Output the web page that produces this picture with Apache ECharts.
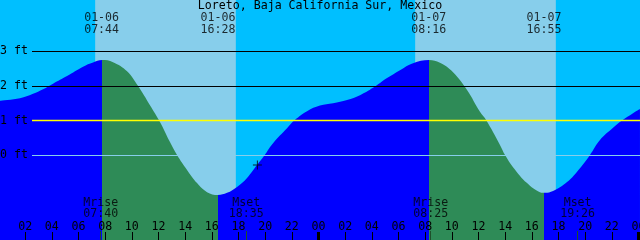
<!DOCTYPE html>
<html><head><meta charset="utf-8">
<script src="https://cdn.jsdelivr.net/npm/echarts@6/dist/echarts.min.js"></script>
<style>html,body{margin:0;padding:0;background:#00BFFF}#c{width:640px;height:240px}</style>
</head><body><div id="c"></div>
<script>
const chartTitle = 'Loreto, Baja California Sur, Mexico';
// tide curve samples: hours since 01-06 00:00 and height in feet
const tideHours = [0.11,1.61,2.59,3.34,4.09,5.14,6.34,7.09,7.76,8.59,
  9.64,10.46,11.36,12.11,12.86,13.39,14.14,14.89,15.64,16.46,
  17.14,17.89,18.64,19.39,19.91,20.59,21.64,22.24,23.14,24.11,
  25.09,26.14,27.11,28.09,29.14,30.11,31.09,32.29,33.11,34.09,
  35.14,36.11,36.56,37.61,37.99,38.59,39.64,40.61,40.99,41.59,
  42.64,43.61,44.36,45.11,46.09,46.76,47.59,48.11];
const tideFeet = [1.57,1.64,1.77,1.90,2.06,2.28,2.55,2.67,2.74,2.68,
  2.42,2.00,1.44,0.96,0.38,0.01,-0.42,-0.80,-1.06,-1.14,
  -1.08,-0.91,-0.65,-0.28,-0.02,0.35,0.78,1.02,1.27,1.43,
  1.50,1.59,1.73,1.94,2.22,2.45,2.65,2.74,2.66,2.39,
  1.88,1.25,1.02,0.30,0.01,-0.34,-0.80,-1.06,-1.08,-1.03,
  -0.77,-0.37,0.01,0.44,0.79,1.00,1.21,1.33];
const sunTimes = ['01-06 07:44','01-06 16:28','01-07 08:16','01-07 16:55'];
const lightTimes = ['01-06 07:15','01-06 17:48','01-07 07:15','01-07 17:48'];
const moonKinds = ['Mrise','Mset','Mrise','Mset'];
const moonTimes = ['01-06 07:40','01-06 18:35','01-07 08:25','01-07 19:26'];
const levelTicks = [0,1,2,3];
const hourTicks = [0,2,4,6,8,10,12,14,16,18,20,22,24,26,28,30,32,34,36,38,40,42,44,46,48];
const dayTicks = [24,48];
const nowMark = ['01-06 19:25', -0.28];

const MONO = 'DejaVu Sans Mono';
function toHours(s){
  const day = parseInt(s.slice(3,5),10) - 6;
  const hh = parseInt(s.slice(6,8),10), mm = parseInt(s.slice(9,11),10);
  return day*24 + hh + mm/60;
}
const XMIN = 0.1125, XMAX = 48.1125, YMIN = -2.436, YMAX = 4.467;
const sunH = sunTimes.map(toHours);
const lightH = lightTimes.map(toHours);
const moonH = moonTimes.map(toHours);
const tideData = tideHours.map((h,i)=>[h, tideFeet[i]]);

const BLUE = '#0000FF', GREEN = '#2E8B57';
const pieces = [
  {lt: sunH[0], color: BLUE},
  {gte: sunH[0], lt: sunH[1], color: GREEN},
  {gte: sunH[1], lt: sunH[2], color: BLUE},
  {gte: sunH[2], lt: sunH[3], color: GREEN},
  {gte: sunH[3], color: BLUE}
];

function tickAxis(values, color, width, length, z){
  return {type:'value', gridIndex:0, min:XMIN, max:XMAX, z:z, position:'bottom', offset:0,
    axisLine:{show:false, onZero:false}, splitLine:{show:false}, axisLabel:{show:false},
    axisTick:{show:true, inside:true, length:length, customValues: values, lineStyle:{color:color, width:width}}};
}

const chart = echarts.init(document.getElementById('c'), null, {renderer:'canvas'});
chart.setOption({
  animation: false,
  backgroundColor: '#00BFFF',
  title: {text: chartTitle, left: 'center', top: 0, padding: 0,
    textStyle: {fontFamily: MONO, fontSize: 11.6, fontWeight: 'normal', color: '#000'}},
  grid: [
    {left: 0, right: 0, top: 0, bottom: 0, outerBoundsMode: 'none', containLabel: false},
    {left: 32, right: 0, top: 0, bottom: 0, outerBoundsMode: 'none', containLabel: false}
  ],
  xAxis: [
    {type:'value', gridIndex:0, min:XMIN, max:XMAX, z:10, position:'bottom',
     axisLine:{show:false, onZero:false}, splitLine:{show:false},
     axisTick:{show:true, inside:true, length:8, customValues: hourTicks, lineStyle:{color:'#000', width:1}},
     axisLabel:{show:true, inside:true, margin:7, customValues: hourTicks, color:'#000', fontFamily:MONO, fontSize:11.6,
       formatter: v => String(Math.round(v)%24).padStart(2,'0')}},
    {type:'value', gridIndex:1, min:0, max:1, show:false},
    tickAxis(dayTicks, '#000', 3, 8, 11),
    tickAxis(moonH, '#1f4f2a', 1, 9, 11)
  ],
  yAxis: [
    {type:'value', gridIndex:0, min:YMIN, max:YMAX, show:false},
    {type:'value', gridIndex:1, min:YMIN, max:YMAX, z:10,
     axisLine:{show:false}, axisTick:{show:false}, splitLine:{show:false},
     axisLabel:{show:true, margin:4, customValues: levelTicks, color:'#000', fontFamily:MONO, fontSize:11.6,
       formatter: v => v + ' ft'}},
    {type:'value', gridIndex:0, min:0, max:240, inverse:true, show:false}
  ],
  visualMap: {type:'piecewise', show:false, dimension:0, seriesIndex:2, pieces: pieces},
  series: [
    {type:'line', xAxisIndex:0, yAxisIndex:0, data:[], z:1, silent:true,
     markArea:{silent:true, itemStyle:{color:'#87CEEB', opacity:1},
       data:[[{xAxis:lightH[0]},{xAxis:lightH[1]}],[{xAxis:lightH[2]},{xAxis:lightH[3]}]]}},
    {type:'line', xAxisIndex:1, yAxisIndex:1, data:[], z:2, silent:true,
     markLine:{silent:true, symbol:['none','none'], label:{show:false},
       data:[{yAxis:3, lineStyle:{color:'#000', width:1, type:'solid'}},
             {yAxis:2, lineStyle:{color:'#000', width:1, type:'solid'}},
             {yAxis:0, lineStyle:{color:'#87CEEB', width:1, type:'solid'}}]}},
    {type:'line', xAxisIndex:0, yAxisIndex:0, data: tideData, z:3, silent:true,
     smooth:0.4, showSymbol:false, symbol:'none',
     lineStyle:{width:0}, areaStyle:{origin:'start', opacity:1}},
    {type:'line', xAxisIndex:1, yAxisIndex:1, data:[], z:4, silent:true,
     markLine:{silent:true, symbol:['none','none'], label:{show:false},
       data:[{yAxis:1, lineStyle:{color:'#FFFF00', width:1.3, type:'solid'}}]}},
    {type:'scatter', xAxisIndex:0, yAxisIndex:2, z:10, silent:true, symbolSize:0,
     data: sunTimes.map((s,i)=>({value:[sunH[i], 24], name:s})),
     label:{show:true, position:'inside', color:'#000', fontFamily:MONO, fontSize:11.6, lineHeight:12,
       formatter: p => p.name.slice(0,5) + '\n' + p.name.slice(6)}},
    {type:'scatter', xAxisIndex:0, yAxisIndex:2, z:10, silent:true, symbolSize:0,
     data: moonTimes.map((s,i)=>({value:[moonH[i], 208], name:moonKinds[i] + '\n' + s.slice(6)})),
     label:{show:true, position:'inside', color:'#000', fontFamily:MONO, fontSize:11.6, lineHeight:11,
       formatter: p => p.name}},
    {type:'scatter', xAxisIndex:0, yAxisIndex:0, z:10, silent:true,
     symbol:'path://M4,0h1v9h-1z M0,4h9v1h-9z', symbolSize:9, itemStyle:{color:'#000'},
     data:[[toHours(nowMark[0]), nowMark[1]]]}
  ]
});
</script></body></html>
